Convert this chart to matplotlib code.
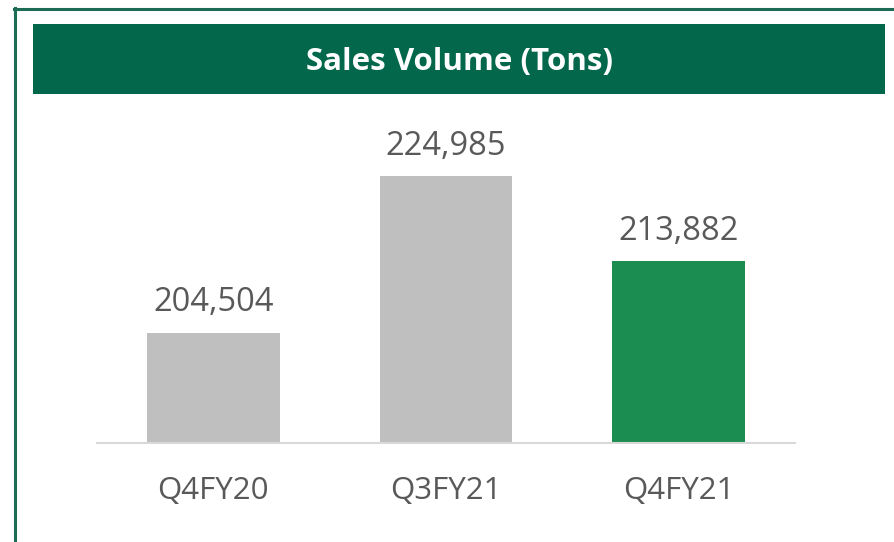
import matplotlib
matplotlib.use("Agg")
import matplotlib.pyplot as plt
from matplotlib.patches import Rectangle
from matplotlib.lines import Line2D

categories = ["Q4FY20", "Q3FY21", "Q4FY21"]
volumes = [204504, 224985, 213882]
bar_colors = ["#bfbfbf", "#bfbfbf", "#1c8d50"]
title_text = "Sales Volume (Tons)"

W, H = 894, 542
fig = plt.figure(figsize=(W / 100, H / 100), dpi=100)
plt.rcParams["font.family"] = ["Open Sans", "DejaVu Sans"]

def fx(px):
    return px / W

def fy(py):
    return 1 - py / H

# outer frame: top and left rules
fig.add_artist(Line2D([fx(14), fx(894)], [fy(9), fy(9)], color="#1b6b55", lw=2.2))
fig.add_artist(Line2D([fx(15), fx(15)], [fy(8), fy(542)], color="#1b6b55", lw=2.2))

# title band
fig.add_artist(Rectangle((fx(33), fy(94)), fx(885) - fx(33), fy(24) - fy(94),
                         transform=fig.transFigure, facecolor="#02674b",
                         edgecolor="none"))
fig.text((fx(33) + fx(885)) / 2, fy(70), title_text,
         color="white", fontsize=22.5, fontweight="bold", ha="center", va="baseline")

# chart area
left, right, top, bottom = 97, 795, 120, 443
ax = fig.add_axes([fx(left), fy(bottom), fx(right) - fx(left), fy(top) - fy(bottom)])
x = list(range(len(categories)))
bars = ax.bar(x, volumes, width=0.57, color=bar_colors, zorder=2)
ax.set_xlim(-0.5, len(categories) - 0.5)
ax.set_ylim(190000, 232400)

for xi, v in zip(x, volumes):
    ax.annotate(f"{v:,}", (xi, v), xytext=(0, 15.5), textcoords="offset points",
                ha="center", va="baseline", fontsize=23.5, color="#595959")

for side in ["top", "right", "left"]:
    ax.spines[side].set_visible(False)
ax.spines["bottom"].set_color("#d9d9d9")
ax.spines["bottom"].set_linewidth(1.5)
ax.set_yticks([])
ax.set_xticks(x)
ax.set_xticklabels(categories, fontsize=22.5, color="#595959")
ax.tick_params(axis="x", length=0, pad=24)
ax.patch.set_visible(False)

fig.savefig("out.png", dpi=100, facecolor="white")
